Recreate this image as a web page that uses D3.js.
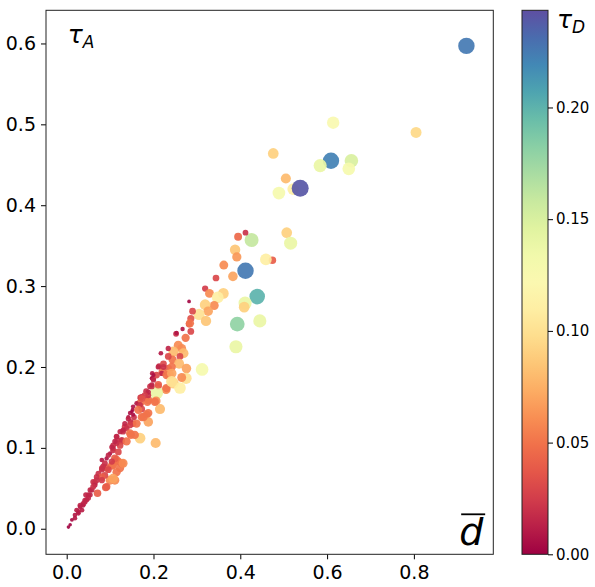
<!DOCTYPE html>
<html>
<head>
<meta charset="utf-8">
<script src="https://cdn.jsdelivr.net/npm/d3@7"></script>
<style>
  body { margin: 0; background: #fff; }
  svg text { font-family: "DejaVu Sans", sans-serif; fill: #000; }
</style>
</head>
<body>
<div id="chart"></div>
<script>
// mean distance (x), tau_A (y), tau_D (colour + size)
const dBar = [
  0.921, 0.614, 0.805, 0.609, 0.584, 0.656, 0.650, 0.522, 0.538, 0.476,
  0.505, 0.489, 0.507, 0.516, 0.426, 0.412, 0.395, 0.388, 0.392, 0.412,
  0.474, 0.459, 0.362, 0.344, 0.383, 0.319, 0.329, 0.361, 0.439, 0.411,
  0.409, 0.348, 0.340, 0.319, 0.326, 0.305, 0.321, 0.393, 0.445, 0.390,
  0.282, 0.290, 0.286, 0.282, 0.267, 0.286, 0.274, 0.265, 0.269, 0.252,
  0.257, 0.246, 0.234, 0.217, 0.261, 0.244, 0.259, 0.276, 0.312, 0.213,
  0.234, 0.221, 0.236, 0.275, 0.265, 0.197, 0.199, 0.192, 0.211, 0.246,
  0.261, 0.229, 0.207, 0.183, 0.170, 0.188, 0.206, 0.215, 0.173, 0.152,
  0.184, 0.173, 0.188, 0.169, 0.205, 0.148, 0.134, 0.153, 0.115, 0.127,
  0.107, 0.119, 0.127, 0.104, 0.092, 0.100, 0.111, 0.081, 0.073, 0.065,
  0.090, 0.071, 0.054, 0.042, 0.031, 0.023, 0.012, 0.004, 0.044, 0.038,
  0.100, 0.142, 0.169, 0.196, 0.253, 0.284, 0.186, 0.169, 0.173, 0.188,
  0.196, 0.188, 0.155, 0.146, 0.147, 0.161, 0.130, 0.117, 0.123, 0.092,
  0.115, 0.107, 0.123, 0.084, 0.088, 0.081, 0.069, 0.061, 0.050, 0.027,
  0.019, 0.081, 0.107, 0.153, 0.234, 0.223,
  0.115, 0.107, 0.119, 0.096, 0.111, 0.130, 0.104, 0.088, 0.081, 0.096,
  0.115, 0.107, 0.092, 0.065, 0.058, 0.054, 0.046, 0.038, 0.035, 0.027,
  0.019, 0.008, 0.081, 0.069, 0.061, 0.042, 0.050, 0.031,
  0.211, 0.223, 0.242, 0.219, 0.230, 0.242, 0.207, 0.200, 0.200, 0.196,
  0.211, 0.188, 0.230, 0.242, 0.180, 0.173, 0.203, 0.161, 0.169, 0.165,
  0.177, 0.153, 0.150, 0.142, 0.134, 0.146, 0.138, 0.130, 0.123, 0.146,
  0.157, 0.115, 0.127, 0.138, 0.111, 0.104
];
const tauA = [
  0.597, 0.502, 0.490, 0.455, 0.449, 0.455, 0.445, 0.420, 0.421, 0.464,
  0.433, 0.415, 0.366, 0.353, 0.357, 0.366, 0.361, 0.345, 0.336, 0.319,
  0.332, 0.333, 0.326, 0.310, 0.312, 0.297, 0.291, 0.291, 0.287, 0.279,
  0.274, 0.286, 0.276, 0.277, 0.269, 0.265, 0.257, 0.253, 0.257, 0.225,
  0.281, 0.269, 0.260, 0.253, 0.247, 0.244, 0.236, 0.223, 0.217, 0.241,
  0.227, 0.219, 0.223, 0.217, 0.213, 0.209, 0.204, 0.198, 0.197, 0.201,
  0.198, 0.194, 0.191, 0.186, 0.187, 0.192, 0.186, 0.176, 0.176, 0.180,
  0.174, 0.172, 0.168, 0.170, 0.162, 0.159, 0.158, 0.148, 0.148, 0.147,
  0.141, 0.138, 0.132, 0.112, 0.106, 0.116, 0.126, 0.130, 0.114, 0.108,
  0.103, 0.083, 0.081, 0.078, 0.075, 0.060, 0.060, 0.073, 0.068, 0.057,
  0.051, 0.044, 0.048, 0.035, 0.029, 0.023, 0.011, 0.002, 0.042, 0.031,
  0.093, 0.138, 0.161, 0.186, 0.242, 0.254, 0.157, 0.155, 0.163, 0.165,
  0.176, 0.143, 0.138, 0.143, 0.132, 0.130, 0.120, 0.110, 0.103, 0.087,
  0.085, 0.079, 0.075, 0.077, 0.066, 0.064, 0.064, 0.058, 0.042, 0.021,
  0.017, 0.085, 0.099, 0.151, 0.213, 0.204,
  0.106, 0.097, 0.095, 0.091, 0.087, 0.081, 0.083, 0.081, 0.075, 0.073,
  0.070, 0.062, 0.052, 0.054, 0.048, 0.042, 0.036, 0.029, 0.023, 0.019,
  0.013, 0.005, 0.060, 0.060, 0.052, 0.033, 0.038, 0.027,
  0.200, 0.200, 0.200, 0.192, 0.190, 0.192, 0.190, 0.190, 0.184, 0.178,
  0.178, 0.169, 0.174, 0.182, 0.165, 0.161, 0.157, 0.155, 0.153, 0.147,
  0.138, 0.141, 0.145, 0.136, 0.130, 0.128, 0.124, 0.122, 0.120, 0.118,
  0.116, 0.114, 0.110, 0.108, 0.108, 0.101
];
const tauD = [
  0.225, 0.125, 0.095, 0.222, 0.140, 0.150, 0.130, 0.110, 0.240, 0.090,
  0.080, 0.130, 0.090, 0.140, 0.160, 0.020, 0.045, 0.085, 0.065, 0.225,
  0.040, 0.110, 0.060, 0.030, 0.070, 0.025, 0.060, 0.090, 0.200, 0.140,
  0.090, 0.110, 0.060, 0.090, 0.070, 0.100, 0.085, 0.180, 0.140, 0.140,
  0.003, 0.030, 0.035, 0.030, 0.008, 0.030, 0.050, 0.060, 0.080, 0.020,
  0.060, 0.080, 0.015, 0.010, 0.030, 0.050, 0.080, 0.070, 0.130, 0.020,
  0.040, 0.050, 0.070, 0.100, 0.060, 0.010, 0.020, 0.020, 0.030, 0.090,
  0.110, 0.060, 0.140, 0.020, 0.025, 0.050, 0.060, 0.080, 0.030, 0.005,
  0.050, 0.050, 0.070, 0.090, 0.080, 0.050, 0.025, 0.030, 0.020, 0.025,
  0.020, 0.045, 0.050, 0.050, 0.040, 0.060, 0.060, 0.020, 0.020, 0.020,
  0.040, 0.040, 0.015, 0.015, 0.015, 0.012, 0.004, 0.002, 0.015, 0.015,
  0.008, 0.006, 0.006, 0.006, 0.008, 0.050, 0.050, 0.050, 0.020, 0.020,
  0.020, 0.050, 0.020, 0.008, 0.020, 0.050, 0.020, 0.020, 0.030, 0.008,
  0.050, 0.050, 0.050, 0.020, 0.030, 0.040, 0.020, 0.020, 0.015, 0.012,
  0.010, 0.010, 0.015, 0.008, 0.030, 0.030,
  0.020, 0.020, 0.030, 0.015, 0.040, 0.060, 0.025, 0.020, 0.020, 0.030,
  0.050, 0.070, 0.040, 0.015, 0.015, 0.015, 0.015, 0.012, 0.012, 0.010,
  0.010, 0.002, 0.025, 0.020, 0.020, 0.015, 0.015, 0.012,
  0.015, 0.020, 0.050, 0.015, 0.050, 0.070, 0.030, 0.006, 0.015, 0.015,
  0.040, 0.015, 0.050, 0.100, 0.025, 0.035, 0.050, 0.010, 0.020, 0.050,
  0.050, 0.006, 0.002, 0.015, 0.015, 0.025, 0.020, 0.015, 0.015, 0.050,
  0.050, 0.015, 0.020, 0.050, 0.015, 0.015
];
const xTicks = [0.0, 0.2, 0.4, 0.6, 0.8];
const yTicks = [0.0, 0.1, 0.2, 0.3, 0.4, 0.5, 0.6];
const cTicks = [0.00, 0.05, 0.10, 0.15, 0.20];
const tauDMax = 0.2435;

const W = 595, H = 587;
const plot = { left: 46, top: 10.3, right: 493.3, bottom: 554.3 };
const cbar = { left: 522, right: 548, top: 10.3, bottom: 554.3 };

const svg = d3.select('#chart').append('svg')
  .attr('width', W)
  .attr('height', H);

const x = d3.scaleLinear().domain([-0.0477, 0.983]).range([plot.left, plot.right]);
const y = d3.scaleLinear().domain([-0.0316, 0.641]).range([plot.bottom, plot.top]);
const color = d3.scaleSequential(d3.interpolateSpectral).domain([0, tauDMax]);
// marker area grows with tau_D
const radius = t => 17 * Math.sqrt(t + 0.009);

const points = dBar.map((d, i) => ({ d, a: tauA[i], t: tauD[i] }));

svg.append('g')
  .selectAll('circle')
  .data(points)
  .enter()
  .append('circle')
  .attr('cx', p => x(p.d))
  .attr('cy', p => y(p.a))
  .attr('r', p => radius(p.t))
  .attr('fill', p => color(p.t))
  .attr('fill-opacity', 0.92);

// axes
const xAxis = svg.append('g')
  .attr('transform', `translate(0,${plot.bottom})`)
  .call(d3.axisBottom(x).tickValues(xTicks).tickFormat(d3.format('.1f')).tickSize(5).tickPadding(5));
const yAxis = svg.append('g')
  .attr('transform', `translate(${plot.left},0)`)
  .call(d3.axisLeft(y).tickValues(yTicks).tickFormat(d3.format('.1f')).tickSize(5).tickPadding(5));
[xAxis, yAxis].forEach(g => {
  g.select('.domain').remove();
  g.selectAll('.tick line').attr('stroke', '#000').attr('stroke-width', 1);
  g.selectAll('.tick text').style('font-size', '19px').style('font-family', '"DejaVu Sans", sans-serif');
});
xAxis.selectAll('.tick text').attr('dy', '0.75em');

svg.append('rect')
  .attr('x', plot.left).attr('y', plot.top)
  .attr('width', plot.right - plot.left).attr('height', plot.bottom - plot.top)
  .attr('fill', 'none').attr('stroke', '#222').attr('stroke-width', 1);

// in-plot labels
const tA = svg.append('text')
  .attr('x', x(0.0) + 1)
  .attr('y', y(0.6))
  .style('font-size', '25px');
tA.append('tspan').style('font-style', 'italic').text('τ');
tA.append('tspan').attr('dy', 5).style('font-size', '17px').style('font-style', 'italic').text('A');

const dLab = svg.append('text')
  .attr('x', plot.right - 10)
  .attr('y', plot.bottom - 9)
  .attr('text-anchor', 'end')
  .style('font-size', '38px')
  .style('font-style', 'italic')
  .text('d');
const bb = dLab.node().getBBox();
svg.append('line')
  .attr('x1', bb.x + 2).attr('x2', bb.x + bb.width + 1)
  .attr('y1', bb.y + 4).attr('y2', bb.y + 4)
  .attr('stroke', '#000').attr('stroke-width', 1.8);

// colour bar
const cy = d3.scaleLinear().domain([0, tauDMax]).range([cbar.bottom, cbar.top]);
const grad = svg.append('defs').append('linearGradient')
  .attr('id', 'cgrad').attr('x1', 0).attr('y1', 1).attr('x2', 0).attr('y2', 0);
d3.range(0, 1.0001, 0.05).forEach(s => {
  grad.append('stop').attr('offset', s).attr('stop-color', color(s * tauDMax));
});
svg.append('rect')
  .attr('x', cbar.left).attr('y', cbar.top)
  .attr('width', cbar.right - cbar.left).attr('height', cbar.bottom - cbar.top)
  .attr('fill', 'url(#cgrad)').attr('stroke', '#222').attr('stroke-width', 1);

const cAxis = svg.append('g')
  .attr('transform', `translate(${cbar.right},0)`)
  .call(d3.axisRight(cy).tickValues(cTicks).tickFormat(d3.format('.2f')).tickSize(5).tickPadding(3));
cAxis.select('.domain').remove();
cAxis.selectAll('.tick line').attr('stroke', '#000');
cAxis.selectAll('.tick text').style('font-size', '15px').style('font-family', '"DejaVu Sans", sans-serif');

const tD = svg.append('text')
  .attr('x', cbar.right + 9)
  .attr('y', cbar.top + 18)
  .style('font-size', '25px');
tD.append('tspan').style('font-style', 'italic').text('τ');
tD.append('tspan').attr('dy', 5).style('font-size', '17px').style('font-style', 'italic').text('D');
</script>
</body>
</html>
